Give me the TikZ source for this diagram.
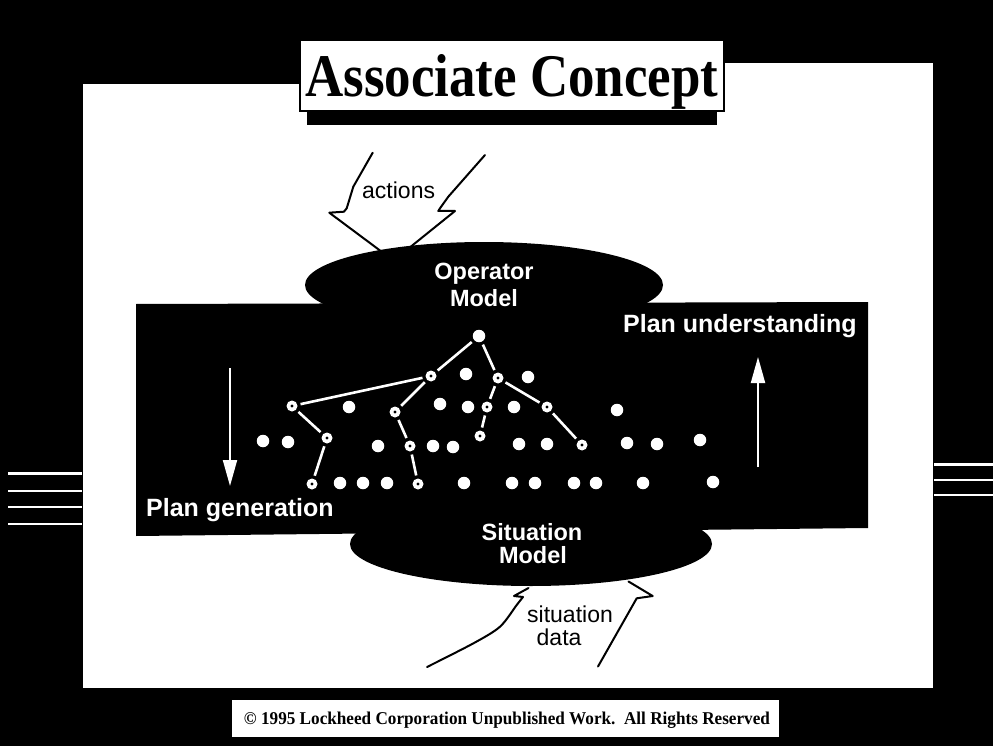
\documentclass[tikz,border=0pt]{standalone}
\usepackage{fontspec}
\setmainfont{Liberation Serif}
\newfontfamily\labelfont{Liberation Sans}
\usetikzlibrary{arrows.meta,shapes.geometric}

\begin{document}
\begin{tikzpicture}[x=1pt,y=-1pt,
  leaf/.style={circle,fill=white,draw=none,minimum size=12.5pt,inner sep=0pt},
  tnode/.style={circle,fill=white,draw=none,minimum size=11pt,inner sep=0pt,
    path picture={\fill[black] (path picture bounding box.center) circle (1.7pt);}},
  link/.style={white,line width=2.6pt,shorten <=3pt,shorten >=3pt},
  lbl/.style={font=\labelfont\fontsize{23}{27}\selectfont,inner sep=0pt},
  modellbl/.style={font=\labelfont\bfseries\fontsize{23.5}{27}\selectfont,inner sep=0pt,text=white},
  biglbl/.style={font=\labelfont\bfseries\fontsize{25}{29}\selectfont,inner sep=0pt,text=white},
  blob/.style={ellipse,fill=black,draw=none,inner sep=0pt},
  flow/.style={white,line width=2pt,-{Triangle[length=26pt,width=14pt]}},
  hollow/.style={black,line width=2pt,line join=round,line cap=round},
  stripe/.style={white}
]
\useasboundingbox (0,0) rectangle (993,746);
% dark frame
\fill[black] (0,0) rectangle (993,746);
% ruled marks on the side strips
\fill[stripe] (8,472) rectangle (82,474.5);
\fill[stripe] (8,490) rectangle (82,492);
\fill[stripe] (8,506) rectangle (82,508);
\fill[stripe] (8,523) rectangle (82,525);
\fill[stripe] (934,463) rectangle (993,465.5);
\fill[stripe] (934,479) rectangle (993,481);
\fill[stripe] (934,494) rectangle (993,496);

% white slide panel
\fill[white] (83,84) rectangle (933,688);
\fill[white] (724,63) rectangle (933,84);

% title plate with drop shadow
\fill[black] (307,104) rectangle (717,125);
\filldraw[fill=white,draw=black,line width=2pt] (299.5,40.5) rectangle (723.5,111.5);
\node[inner sep=0pt,anchor=base west] (title) at (305,96.7)
  {\resizebox{413pt}{42pt}{\bfseries Associate Concept}};

% "actions" input arrow (outline)
\draw[hollow] (372.7,152.7) -- (353.3,186.7) -- (346.7,208.3) -- (344,211.7)
  -- (329.3,212.7) -- (380,250.5);
\draw[hollow] (485,155) -- (448.3,196.7) -- (440,208.3) -- (438.3,211)
  -- (455,211) -- (408.5,248.5);
\node[lbl,anchor=base west] (act) at (362,198.3) {actions};

% "situation data" input arrow (outline)
\draw[hollow] plot[smooth] coordinates {(427,667) (474,643) (500,626.7) (516.7,605) (523,597)}
  -- (514,596) -- (528.5,588);
\draw[hollow] (598,666.5) -- (636.7,598.3) -- (652.7,596) -- (628.5,581.5);
\node[lbl,anchor=base west] (sit1) at (527,622.5) {situation};
\node[lbl,anchor=base west] (sit2) at (536.5,645) {data};

% processing band and the two models
\fill[black] (136,304) -- (868,302) -- (868,528) -- (136,536) -- cycle;
\node[blob,minimum width=358pt,minimum height=86pt] (opm) at (484,285) {};
\node[blob,minimum width=362pt,minimum height=84pt] (sim) at (531,544) {};
\node[modellbl,anchor=base] (opm1) at (484,279) {Operator};
\node[modellbl,anchor=base] (opm2) at (484,306.5) {Model};
\node[modellbl,anchor=base] (sim1) at (532,540) {Situation};
\node[modellbl,anchor=base] (sim2) at (533,563.3) {Model};

\node[biglbl,anchor=base west] (pg) at (146,516) {Plan generation};
\node[biglbl,anchor=base west] (pu) at (623,332) {Plan understanding};

% direction arrows
\coordinate (gtop) at (230,368);
\coordinate (gbot) at (230,486);
\coordinate (ubot) at (758,467);
\coordinate (utop) at (758,357);
\draw[flow] (gtop) -- (gbot);
\draw[flow] (ubot) -- (utop);

% plan tree
\node[leaf]  (r) at (479,336) {};
\node[tnode] (a) at (431,376) {};
\node[tnode] (b) at (498,378) {};
\node[tnode] (c) at (292,406) {};
\node[tnode] (d) at (395,412) {};
\node[tnode] (e) at (487,407) {};
\node[tnode] (f) at (547,407) {};
\node[tnode] (g) at (327,438) {};
\node[tnode] (h) at (410,446) {};
\node[tnode] (i) at (480,436) {};
\node[tnode] (j) at (582,445) {};
\node[tnode] (k) at (312,484) {};
\node[tnode] (l) at (418,484) {};
\foreach \u/\v in {r/a,r/b,a/c,a/d,c/g,g/k,d/h,h/l,b/e,e/i,b/f,f/j}
  \draw[link] (\u) -- (\v);

% unconnected situation elements
\foreach \n/\p in {
  pa1/{(466,374)}, pa2/{(528,377)},
  pb1/{(349,407)}, pb2/{(440,404)}, pb3/{(468,407)}, pb4/{(514,407)}, pb5/{(617,410)},
  pc1/{(263,441)}, pc2/{(288,442)}, pc3/{(378,446)}, pc4/{(433,446)}, pc5/{(453,447)},
  pc6/{(519,444)}, pc7/{(547,444)}, pc8/{(627,443)}, pc9/{(657,444)}, pc10/{(700,440)},
  pd1/{(340,483)}, pd2/{(363,483)}, pd3/{(387,483)}, pd4/{(464,483)}, pd5/{(512,483)},
  pd6/{(535,483)}, pd7/{(574,483)}, pd8/{(596,483)}, pd9/{(643,483)}, pd10/{(713,482)}}
  \node[leaf] (\n) at \p {};

% copyright strip
\fill[white] (232,700) rectangle (779,737);
\node[inner sep=0pt,anchor=base] (copy) at (507,724)
  {\resizebox{526pt}{12.5pt}{\bfseries \textcopyright{} 1995 Lockheed Corporation Unpublished Work.\ \ All Rights Reserved}};
\end{tikzpicture}
\end{document}
